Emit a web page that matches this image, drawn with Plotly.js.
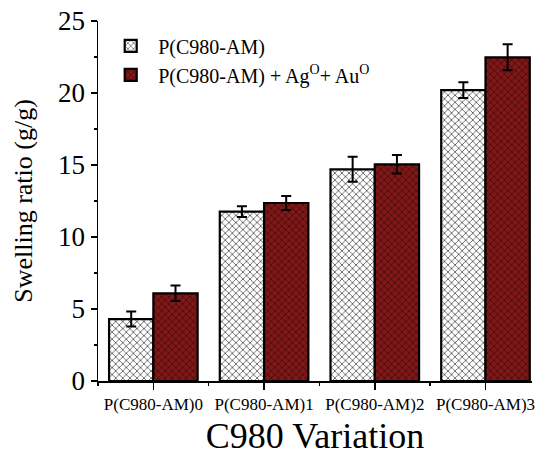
<!DOCTYPE html>
<html>
<head>
<meta charset="utf-8">
<script src="https://cdn.plot.ly/plotly-3.0.1.min.js"></script>
<style>html,body{margin:0;padding:0;background:#fff;}#chart{width:539px;height:456px;}</style>
</head>
<body>
<div id="chart"></div>
<script>
const categories = ["P(C980-AM)0", "P(C980-AM)1", "P(C980-AM)2", "P(C980-AM)3"];
const seriesNames = ["P(C980-AM)", "P(C980-AM) + Ag<sup>O</sup>+ Au<sup>O</sup>"];
const plainValues = [4.3, 11.76, 14.7, 20.2];
const plainErrors = [0.52, 0.37, 0.87, 0.55];
const nanoValues = [6.09, 12.36, 15.05, 22.48];
const nanoErrors = [0.54, 0.49, 0.64, 0.9];
const yTickVals = [0, 5, 10, 15, 20, 25];

const font = "Liberation Serif";
const xPos = categories.map((c, i) => i);
const groupEdges = categories.map((c, i) => i - 0.5);

const traces = [
  {
    type: "bar", name: seriesNames[0], x: xPos, y: plainValues,
    error_y: {type: "data", array: plainErrors, visible: true, color: "#000", thickness: 2, width: 5},
    marker: {
      color: "#ffffff",
      line: {color: "#000", width: 2.2},
      pattern: {shape: "x", fillmode: "replace", bgcolor: "#ffffff", fgcolor: "#555555", size: 5, solidity: 0.3}
    }
  },
  {
    type: "bar", name: seriesNames[1], x: xPos, y: nanoValues,
    error_y: {type: "data", array: nanoErrors, visible: true, color: "#000", thickness: 2, width: 5},
    marker: {
      color: "#7a1414",
      line: {color: "#000", width: 2.2},
      pattern: {shape: "x", fillmode: "replace", bgcolor: "#801818", fgcolor: "#3c0606", size: 5, solidity: 0.25}
    }
  }
];

const layout = {
  width: 539, height: 456,
  margin: {l: 98, r: 7, t: 21, b: 75},
  paper_bgcolor: "#fff", plot_bgcolor: "#fff",
  barmode: "group", bargap: 0.2, bargroupgap: 0,
  font: {family: font, color: "#000"},
  showlegend: true,
  legend: {
    x: 0.012, y: 0.985, xanchor: "left", yanchor: "top",
    font: {family: font, size: 20, color: "#000"},
    bgcolor: "rgba(0,0,0,0)", itemwidth: 45, tracegroupgap: 6
  },
  xaxis: {
    type: "linear", range: [-0.5, 3.42],
    tickmode: "array", tickvals: xPos, ticktext: categories,
    showline: true, linecolor: "#000", linewidth: 1.5,
    ticks: "outside", ticklen: 7, tickwidth: 1.5, tickcolor: "#000",
    minor: {tickmode: "array", tickvals: groupEdges.concat([3.5]), ticks: "outside", ticklen: 3, tickwidth: 1.5, tickcolor: "#000", showgrid: false},
    showgrid: false, zeroline: false,
    tickfont: {family: font, size: 17, color: "#000"},
    title: {text: "C980 Variation", font: {family: font, size: 36, color: "#000"}, standoff: 15}
  },
  yaxis: {
    range: [0, 25], tickvals: yTickVals,
    showline: true, linecolor: "#000", linewidth: 1.5,
    ticks: "outside", ticklen: 6, tickwidth: 1.5, tickcolor: "#000",
    minor: {dtick: 2.5, ticks: "outside", ticklen: 3, tickwidth: 1.5, tickcolor: "#000", showgrid: false},
    showgrid: false, zeroline: false,
    tickfont: {family: font, size: 27, color: "#000"},
    title: {text: "Swelling ratio (g/g)", font: {family: font, size: 26, color: "#000"}, standoff: 18}
  }
};

Plotly.newPlot("chart", traces, layout, {displayModeBar: false, staticPlot: true});
</script>
</body>
</html>
